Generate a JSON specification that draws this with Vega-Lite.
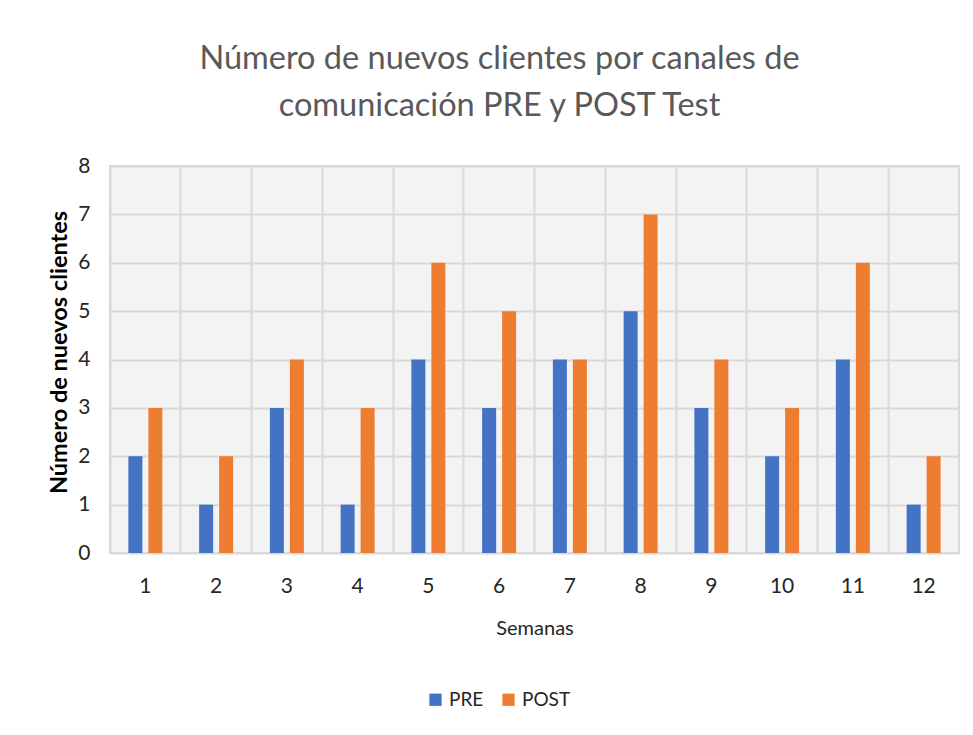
{
  "$schema": "https://vega.github.io/schema/vega-lite/v6.json",
  "autosize": {"type": "none"},
  "width": 849,
  "height": 387,
  "padding": {"left": 110, "top": 166, "right": 14, "bottom": 182},
  "background": "white",
  "title": {
    "text": ["Número de nuevos clientes por canales de", "comunicación PRE y POST Test"],
    "font": "Lato",
    "fontSize": 32.5,
    "fontWeight": "normal",
    "color": "#595959",
    "lineHeight": 47,
    "anchor": "middle",
    "dx": -35,
    "offset": 33
  },
  "config": {
    "view": {"fill": "#f3f3f3", "stroke": "#d9d9d9", "strokeWidth": 2},
    "font": "Lato"
  },
  "data": {
    "values": [
      {"semana": 1, "grupo": "PRE", "valor": 2}, {"semana": 1, "grupo": "POST", "valor": 3},
      {"semana": 2, "grupo": "PRE", "valor": 1}, {"semana": 2, "grupo": "POST", "valor": 2},
      {"semana": 3, "grupo": "PRE", "valor": 3}, {"semana": 3, "grupo": "POST", "valor": 4},
      {"semana": 4, "grupo": "PRE", "valor": 1}, {"semana": 4, "grupo": "POST", "valor": 3},
      {"semana": 5, "grupo": "PRE", "valor": 4}, {"semana": 5, "grupo": "POST", "valor": 6},
      {"semana": 6, "grupo": "PRE", "valor": 3}, {"semana": 6, "grupo": "POST", "valor": 5},
      {"semana": 7, "grupo": "PRE", "valor": 4}, {"semana": 7, "grupo": "POST", "valor": 4},
      {"semana": 8, "grupo": "PRE", "valor": 5}, {"semana": 8, "grupo": "POST", "valor": 7},
      {"semana": 9, "grupo": "PRE", "valor": 3}, {"semana": 9, "grupo": "POST", "valor": 4},
      {"semana": 10, "grupo": "PRE", "valor": 2}, {"semana": 10, "grupo": "POST", "valor": 3},
      {"semana": 11, "grupo": "PRE", "valor": 4}, {"semana": 11, "grupo": "POST", "valor": 6},
      {"semana": 12, "grupo": "PRE", "valor": 1}, {"semana": 12, "grupo": "POST", "valor": 2}
    ]
  },
  "mark": {"type": "bar"},
  "encoding": {
    "x": {
      "field": "semana",
      "type": "ordinal",
      "scale": {"paddingInner": 0, "paddingOuter": 0},
      "axis": {
        "title": "Semanas",
        "titleFont": "Lato",
        "titleFontSize": 20,
        "titleFontWeight": "normal",
        "titleColor": "#262626",
        "titlePadding": 22,
        "labelAngle": 0,
        "labelFontSize": 21,
        "labelColor": "#262626",
        "labelPadding": 22,
        "ticks": false,
        "domain": false,
        "grid": true,
        "bandPosition": 0,
        "gridColor": "#d9d9d9",
        "gridWidth": 2
      }
    },
    "xOffset": {
      "field": "grupo",
      "type": "nominal",
      "sort": ["PRE", "POST"],
      "scale": {"paddingInner": 0.3, "paddingOuter": 0.92}
    },
    "y": {
      "field": "valor",
      "type": "quantitative",
      "scale": {"domain": [0, 8]},
      "axis": {
        "title": "Número de nuevos clientes",
        "titleFont": "Lato",
        "titleFontSize": 23.5,
        "titleFontWeight": "bold",
        "titleColor": "#000000",
        "titlePadding": 6,
        "titleY": 186,
        "values": [0, 1, 2, 3, 4, 5, 6, 7, 8],
        "labelOverlap": false,
        "labelFontSize": 21,
        "labelColor": "#262626",
        "labelPadding": 20,
        "ticks": false,
        "domain": false,
        "grid": true,
        "gridColor": "#d9d9d9",
        "gridWidth": 2
      }
    },
    "color": {
      "field": "grupo",
      "type": "nominal",
      "sort": ["PRE", "POST"],
      "scale": {"domain": ["PRE", "POST"], "range": ["#4472C4", "#ED7D31"]},
      "legend": {
        "title": null,
        "orient": "none",
        "direction": "horizontal",
        "legendX": 316,
        "legendY": 524,
        "symbolType": "square",
        "symbolSize": 150,
        "symbolStrokeWidth": 0,
        "labelFontSize": 19,
        "labelColor": "#262626",
        "columnPadding": 15,
        "labelOffset": 4
      }
    }
  }
}
